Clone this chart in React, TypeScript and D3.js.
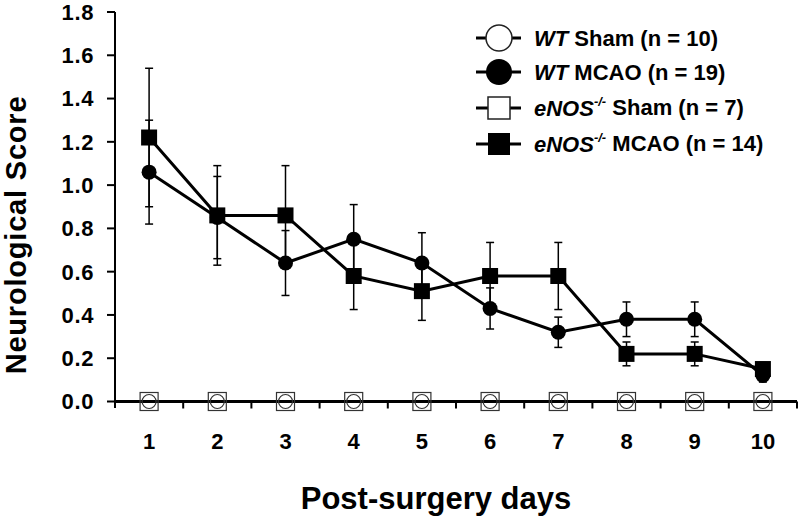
import React from "react";
import * as d3 from "d3";

const days = [1, 2, 3, 4, 5, 6, 7, 8, 9, 10];
const wtSham = [0, 0, 0, 0, 0, 0, 0, 0, 0, 0];
const enosSham = [0, 0, 0, 0, 0, 0, 0, 0, 0, 0];
const wtMcao = [1.06, 0.85, 0.64, 0.75, 0.64, 0.43, 0.32, 0.38, 0.38, 0.12];
const wtMcaoErr = [0.24, 0.19, 0.15, 0.16, 0.14, 0.095, 0.07, 0.08, 0.08, 0.03];
const enosMcao = [1.22, 0.86, 0.86, 0.58, 0.51, 0.58, 0.58, 0.22, 0.22, 0.15];
const enosMcaoErr = [0.32, 0.23, 0.23, 0.155, 0.135, 0.155, 0.155, 0.055, 0.055, 0.03];
const yTicks = [0, 0.2, 0.4, 0.6, 0.8, 1.0, 1.2, 1.4, 1.6, 1.8];
const xMinorTicks = [1.5, 2.5, 3.5, 4.5, 5.5, 6.5, 7.5, 8.5, 9.5, 10.5];

const FONT = "'Liberation Sans', Arial, sans-serif";

export default function App() {
  const x = d3.scaleLinear().domain([0.5, 10.5]).range([115, 797]);
  const y = d3.scaleLinear().domain([0, 1.8]).range([401.5, 12]);
  const line = d3
    .line<number>()
    .x((_, i) => x(days[i]))
    .y((v) => y(v));

  const errBars = (vals: number[], errs: number[], key: string) =>
    vals.map((v, i) => {
      const cx = x(days[i]);
      const top = y(v + errs[i]);
      const bot = y(v - errs[i]);
      return (
        <g key={key + i} stroke="#000" strokeWidth={1.5}>
          <line x1={cx} x2={cx} y1={top} y2={bot} />
          <line x1={cx - 4} x2={cx + 4} y1={top} y2={top} />
          <line x1={cx - 4} x2={cx + 4} y1={bot} y2={bot} />
        </g>
      );
    });

  const legendRows = [
    { yy: 38, kind: "circleOpen", it: "WT", sup: "", rest: " Sham (n = 10)" },
    { yy: 72, kind: "circleFill", it: "WT", sup: "", rest: " MCAO (n = 19)" },
    { yy: 108, kind: "squareOpen", it: "eNOS", sup: "-/-", rest: " Sham (n = 7)" },
    { yy: 144, kind: "squareFill", it: "eNOS", sup: "-/-", rest: " MCAO (n = 14)" },
  ];

  return (
    <svg
      width={800}
      height={520}
      style={{ position: "absolute", left: 0, top: 0, background: "#fff" }}
      fontFamily={FONT}
    >
      <rect width={800} height={520} fill="#fff" />
      {/* Y axis */}
      <line x1={115} x2={115} y1={y(1.8)} y2={408} stroke="#000" strokeWidth={2} />
      {yTicks.map((t) => (
        <g key={"yt" + t}>
          <line x1={107} x2={115} y1={y(t)} y2={y(t)} stroke="#000" strokeWidth={2} />
          <text
            x={94}
            y={y(t)}
            dy="0.36em"
            textAnchor="end"
            fontSize={22}
            fontWeight="bold"
            letterSpacing={0.6}
            fill="#000"
          >
            {t.toFixed(1)}
          </text>
        </g>
      ))}
      {/* X axis */}
      <line x1={115} x2={797} y1={y(0)} y2={y(0)} stroke="#000" strokeWidth={3} />
      {xMinorTicks.map((t) => (
        <line key={"xt" + t} x1={x(t)} x2={x(t)} y1={y(0)} y2={y(0) + 7} stroke="#000" strokeWidth={2} />
      ))}
      {days.map((d) => (
        <text
          key={"xl" + d}
          x={x(d)}
          y={449}
          textAnchor="middle"
          fontSize={22}
          fontWeight="bold"
          fill="#000"
        >
          {d}
        </text>
      ))}
      <text x={436} y={509} textAnchor="middle" fontSize={31} fontWeight="bold" fill="#000">
        Post-surgery days
      </text>
      <text
        transform={`translate(26,235) rotate(-90)`}
        textAnchor="middle"
        fontSize={29}
        fontWeight="bold"
        letterSpacing={0.8}
        fill="#000"
      >
        Neurological Score
      </text>

      {/* Sham series */}
      {wtSham.map((v, i) => (
        <circle key={"ws" + i} cx={x(days[i])} cy={y(v)} r={7} fill="none" stroke="#333" strokeWidth={1.2} />
      ))}
      {enosSham.map((v, i) => (
        <rect
          key={"es" + i}
          x={x(days[i]) - 9}
          y={y(v) - 9}
          width={18}
          height={18}
          fill="none"
          stroke="#333"
          strokeWidth={1.2}
        />
      ))}

      {/* WT MCAO */}
      {errBars(wtMcao, wtMcaoErr, "we")}
      <path d={line(wtMcao) || ""} fill="none" stroke="#000" strokeWidth={3} />
      {wtMcao.map((v, i) => (
        <circle key={"wm" + i} cx={x(days[i])} cy={y(v)} r={7.5} fill="#000" />
      ))}

      {/* eNOS MCAO */}
      {errBars(enosMcao, enosMcaoErr, "ee")}
      <path d={line(enosMcao) || ""} fill="none" stroke="#000" strokeWidth={3} />
      {enosMcao.map((v, i) => (
        <rect key={"em" + i} x={x(days[i]) - 8} y={y(v) - 8} width={16} height={16} fill="#000" />
      ))}

      {/* Legend */}
      {legendRows.map((r) => (
        <g key={"lg" + r.yy}>
          <line x1={476} x2={521} y1={r.yy} y2={r.yy} stroke="#000" strokeWidth={3} />
          {r.kind === "circleOpen" && (
            <circle cx={499} cy={r.yy} r={13} fill="#fff" stroke="#222" strokeWidth={1.5} />
          )}
          {r.kind === "circleFill" && <circle cx={499} cy={r.yy} r={13} fill="#000" />}
          {r.kind === "squareOpen" && (
            <rect x={488} y={r.yy - 11} width={22} height={22} fill="#fff" stroke="#222" strokeWidth={1.5} />
          )}
          {r.kind === "squareFill" && (
            <rect x={488} y={r.yy - 11} width={22} height={22} fill="#000" />
          )}
          <text x={534} y={r.yy} dy="0.36em" fontSize={22} fontWeight="bold" fill="#000">
            <tspan fontStyle="italic">{r.it}</tspan>
            {r.sup && (
              <tspan fontStyle="italic" fontSize={13} dy="-0.75em">
                {r.sup}
              </tspan>
            )}
            <tspan dy={r.sup ? "0.42em" : "0"}>{r.rest}</tspan>
          </text>
        </g>
      ))}
    </svg>
  );
}
